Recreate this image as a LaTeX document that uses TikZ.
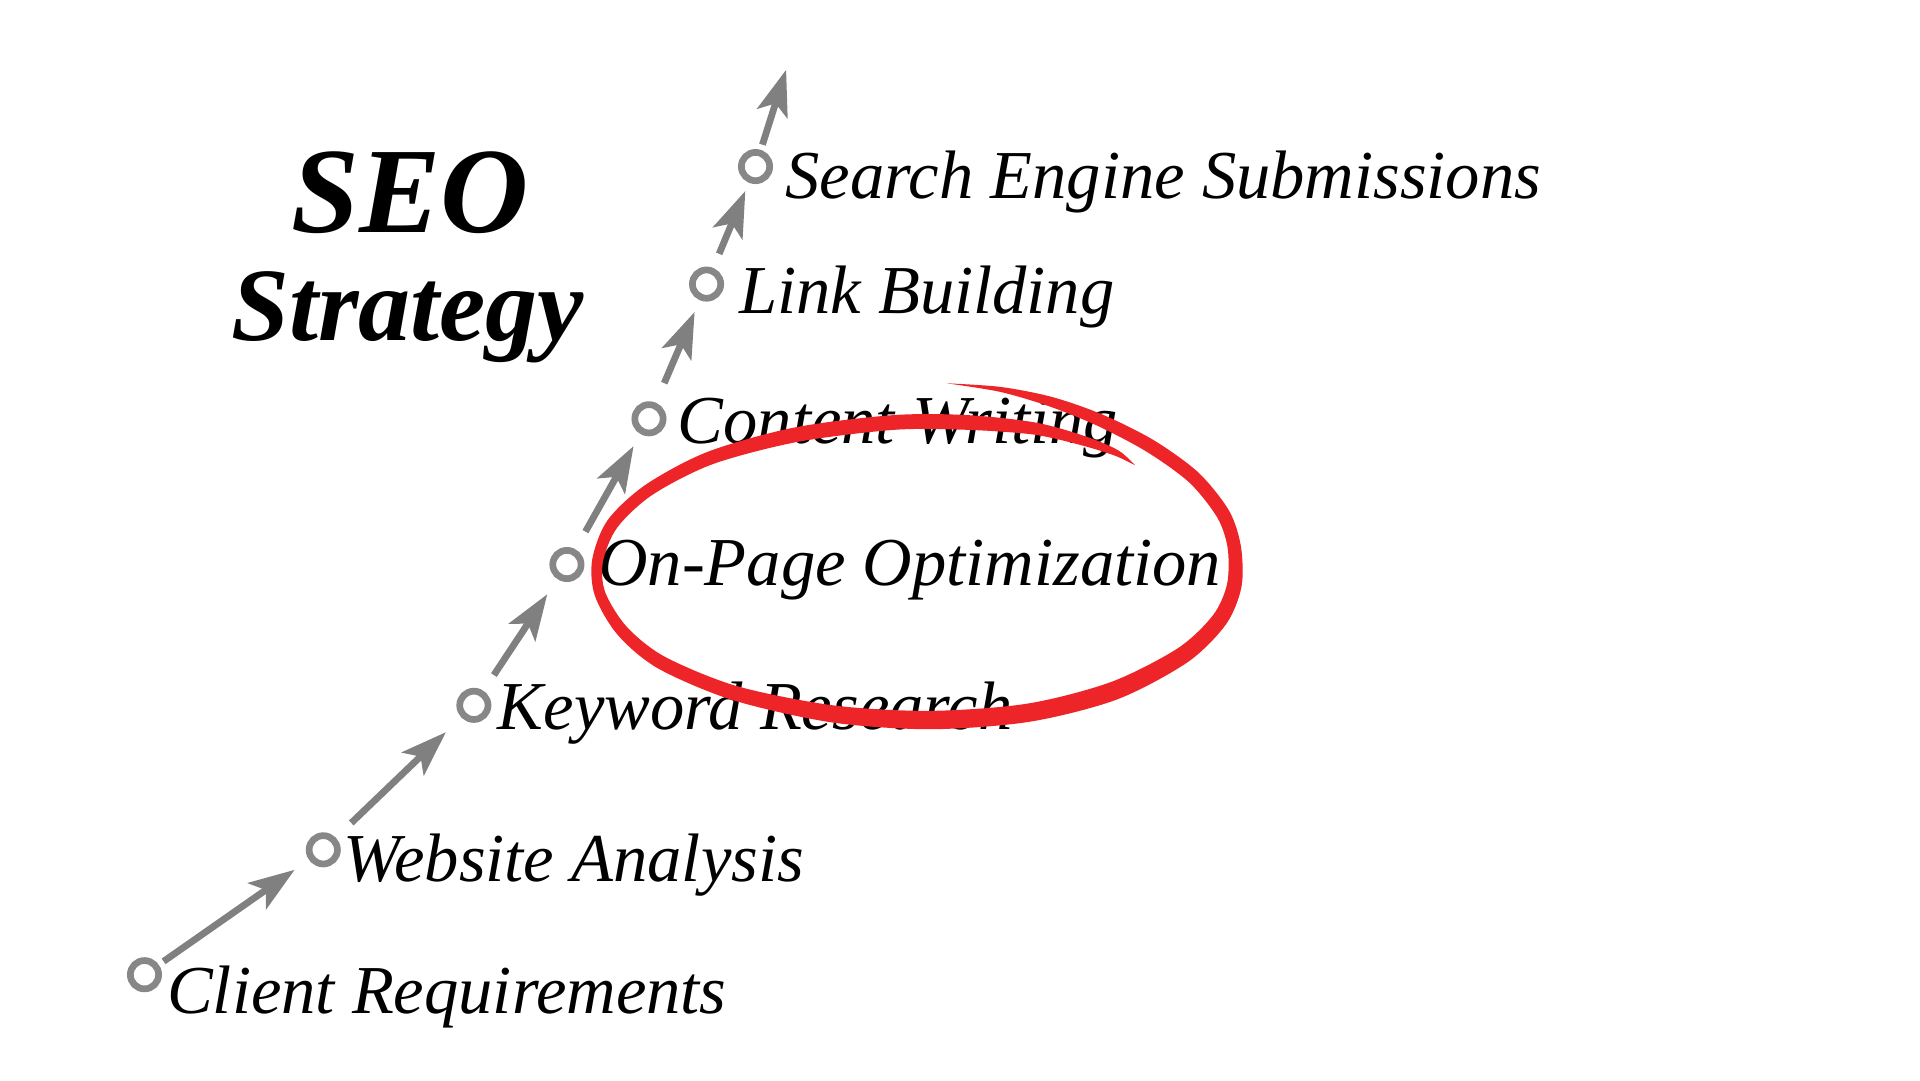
\documentclass[tikz,border=0pt]{standalone}
\usepackage{fontspec}
\setmainfont{Liberation Serif}
\usetikzlibrary{arrows.meta}
\definecolor{ringgray}{RGB}{135,135,135}
\definecolor{arrowgray}{RGB}{128,128,128}
\definecolor{seored}{RGB}{237,36,40}
\begin{document}
\begin{tikzpicture}[x=0.012245cm, y=-0.012245cm,
  ring/.style={circle, draw=ringgray, line width=0.067cm, minimum size=0.283cm, inner sep=0pt, outer sep=0pt},
  arr/.style={draw=arrowgray, line width=0.068cm, -{Stealth[length=13pt,width=9pt,inset=3pt]}},
  lbl/.style={anchor=base west, inner sep=0pt, font=\itshape\fontsize{19.5}{23}\selectfont},
  ttl/.style={anchor=base, inner sep=0pt},
]
\useasboundingbox (0,0) rectangle (1568,882);
\fill[white] (0,0) rectangle (1568,882);

% steps
\node[ring] (c1) at (118,796) {};
\node[ring] (c2) at (264,694) {};
\node[ring] (c3) at (387,576) {};
\node[ring] (c4) at (463,461) {};
\node[ring] (c5) at (530,342) {};
\node[ring] (c6) at (577,232) {};
\node[ring] (c7) at (617,136) {};
\coordinate (top) at (642,57);

% labels
\node[lbl] (l1) at (136,828) {Client Requirements};
\node[lbl] (l2) at (280,720) {Website Analysis};
\node[lbl] (l3) at (406,596) {Keyword Research};
\node[lbl] (l4) at (488,478) {On-Page Optimization};
\node[lbl] (l5) at (553,362) {Content Writing};
\node[lbl] (l6) at (603,256) {Link Building};
\node[lbl] (l7) at (641,162) {Search Engine Submissions};

% title
\node[ttl, font=\bfseries\itshape\fontsize{34.7}{40}\selectfont] (seo) at (335,190) {SEO};
\node[ttl, font=\bfseries\itshape\fontsize{29.6}{34}\selectfont] (strat) at (333,278) {Strategy};

% arrows
\draw[arr, shorten <=2.6pt, shorten >=5.9pt] (c1) -- (c2);
\draw[arr, shorten <=7pt, shorten >=7pt] (c2) -- (c3);
\draw[arr, shorten <=6.3pt, shorten >=6.1pt] (c3) -- (c4);
\draw[arr, shorten <=6.7pt, shorten >=4.9pt] (c4) -- (c5);
\draw[arr, shorten <=7pt, shorten >=4.6pt] (c5) -- (c6);
\draw[arr, shorten <=5.3pt, shorten >=3.5pt] (c6) -- (c7);
\draw[arr, shorten <=2.5pt] (c7) -- (top);

% red hand-drawn ellipse
\fill[seored] plot[smooth] coordinates {(773,313) (817.3,316.0) (859.2,324.2) (900.0,338.4) (941.9,359.3) (978.8,386.0) (1003.8,417.2) (1013.4,446.2) (1013.9,479.1) (1001.3,509.7) (970,540.7) (912.5,571.1) (840.9,589.4) (759.8,595.5) (679,589.9) (598.3,571.7) (537.3,545.8) (504.3,518.3) (485.8,486.5) (483.6,457.2) (496.0,425.1) (527.2,395.9) (578.1,368.9) (648.9,349.1) (729.6,339.0) (790.3,339.0) (845.8,345.1) (886.1,356.2) (913.1,367.7) (927,380)}
  -- plot[smooth] coordinates {(927,380) (910.9,372.3) (883.9,363.8) (844.2,354.9) (789.7,351.0) (730.4,351.0) (651.1,360.9) (581.9,379.1) (532.8,404.1) (504.0,430.9) (492.4,458.8) (494.2,483.5) (511.7,511.7) (542.7,536.2) (601.7,560.3) (681,576.1) (760.2,580.5) (839.1,574.6) (907.5,556.9) (962,529.3) (990.7,502.3) (1002.1,476.9) (1002.6,447.8) (994.2,422.8) (971.2,394.0) (936.1,368.7) (896.0,347.6) (856.8,331.8) (816.7,320.0) (773,313)}
  -- cycle;
\end{tikzpicture}
\end{document}
